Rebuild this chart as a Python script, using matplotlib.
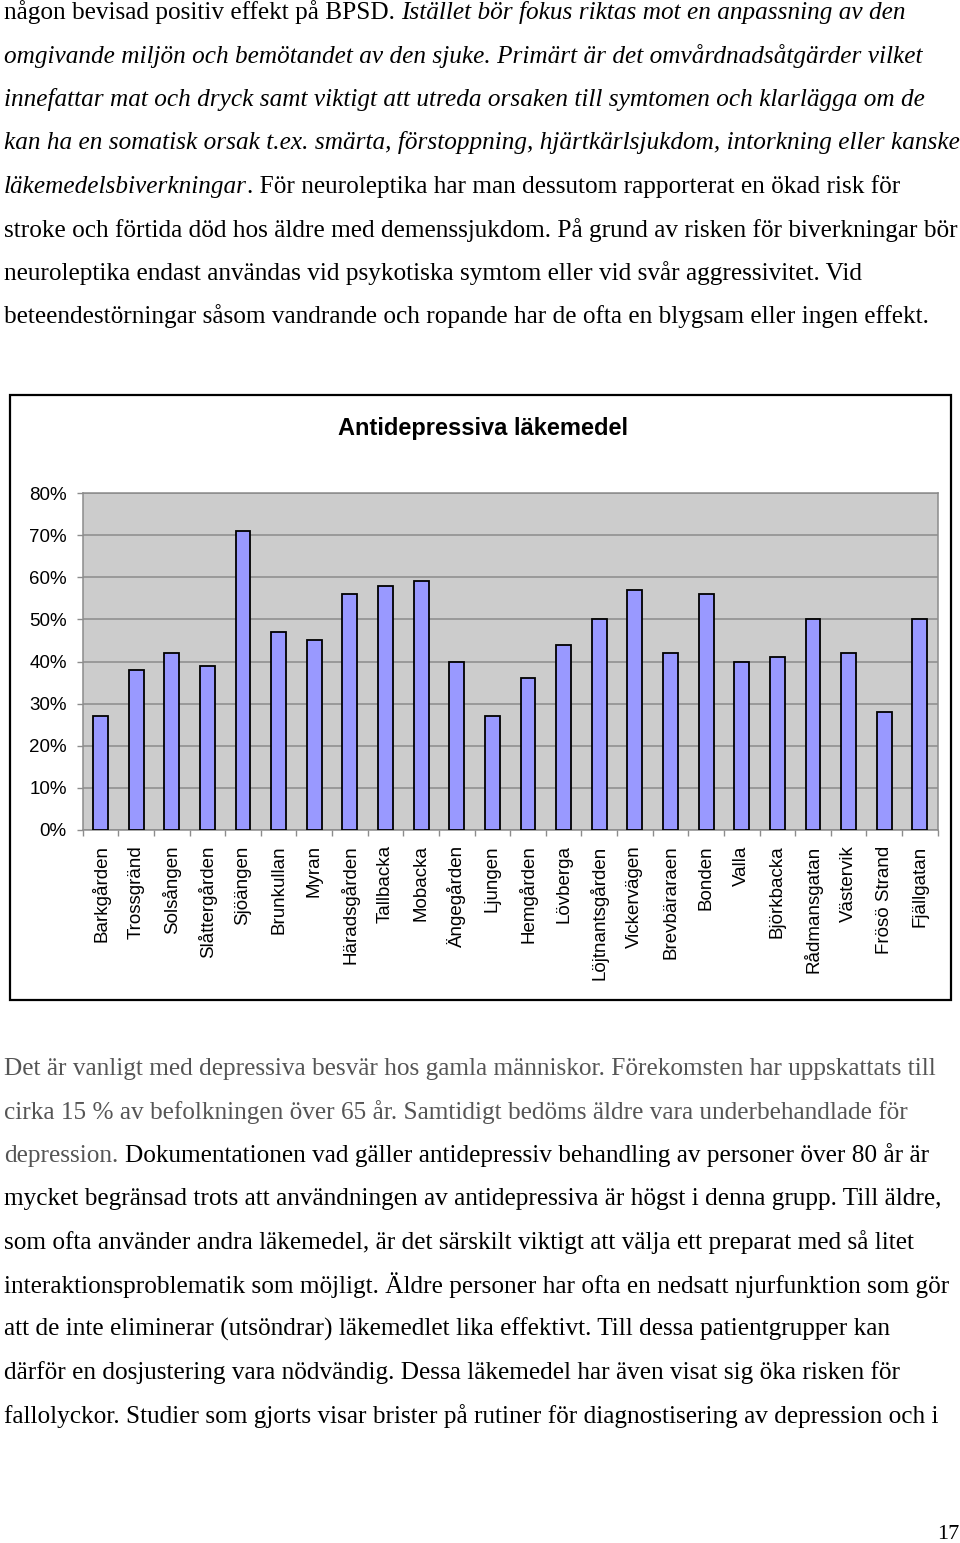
import matplotlib
matplotlib.use("Agg")
import matplotlib.pyplot as plt
from matplotlib.patches import Rectangle
import numpy as np

W, H = 960, 1543
DPI = 100

# ---------------- data ----------------
categories = ["Barkgården", "Trossgränd", "Solsången", "Slåttergården", "Sjöängen",
              "Brunkullan", "Myran", "Häradsgården", "Tallbacka", "Mobacka",
              "Ängegården", "Ljungen", "Hemgården", "Lövberga", "Löjtnantsgården",
              "Vickervägen", "Brevbäraraen", "Bonden", "Valla", "Björkbacka",
              "Rådmansgatan", "Västervik", "Frösö Strand", "Fjällgatan"]
values = [27, 38, 42, 39, 71, 47, 45, 56, 58, 59, 40, 27, 36, 44, 50, 57,
          42, 56, 40, 41, 50, 42, 28, 50]
y_ticks = [0, 10, 20, 30, 40, 50, 60, 70, 80]
y_tick_labels = ["0%", "10%", "20%", "30%", "40%", "50%", "60%", "70%", "80%"]
chart_title = "Antidepressiva läkemedel"

GRAY = "#555555"
top_lines = [
    [("någon bevisad positiv effekt på BPSD.", "n", "k"),
     (" Istället bör fokus riktas mot en anpassning av den", "i", "k")],
    [("omgivande miljön och bemötandet av den sjuke. Primärt är det omvårdnadsåtgärder vilket", "i", "k")],
    [("innefattar mat och dryck samt viktigt att utreda orsaken till symtomen och klarlägga om de", "i", "k")],
    [("kan ha en somatisk orsak t.ex. smärta, förstoppning, hjärtkärlsjukdom, intorkning eller kanske", "i", "k")],
    [("läkemedelsbiverkningar", "i", "k"),
     (". För neuroleptika har man dessutom rapporterat en ökad risk för", "n", "k")],
    [("stroke och förtida död hos äldre med demenssjukdom. På grund av risken för biverkningar bör", "n", "k")],
    [("neuroleptika endast användas vid psykotiska symtom eller vid svår aggressivitet. Vid", "n", "k")],
    [("beteendestörningar såsom vandrande och ropande har de ofta en blygsam eller ingen effekt.", "n", "k")],
]
bottom_lines = [
    [("Det är vanligt med depressiva besvär hos gamla människor. Förekomsten har uppskattats till", "n", "g")],
    [("cirka 15 % av befolkningen över 65 år. Samtidigt bedöms äldre vara underbehandlade för", "n", "g")],
    [("depression.", "n", "g"),
     (" Dokumentationen vad gäller antidepressiv behandling av personer över 80 år är", "n", "k")],
    [("mycket begränsad trots att användningen av antidepressiva är högst i denna grupp. Till äldre,", "n", "k")],
    [("som ofta använder andra läkemedel, är det särskilt viktigt att välja ett preparat med så litet", "n", "k")],
    [("interaktionsproblematik som möjligt. Äldre personer har ofta en nedsatt njurfunktion som gör", "n", "k")],
    [("att de inte eliminerar (utsöndrar) läkemedlet lika effektivt. Till dessa patientgrupper kan", "n", "k")],
    [("därför en dosjustering vara nödvändig. Dessa läkemedel har även visat sig öka risken för", "n", "k")],
    [("fallolyckor. Studier som gjorts visar brister på rutiner för diagnostisering av depression och i", "n", "k")],
]
page_number = "17"

# ---------------- figure ----------------
fig = plt.figure(figsize=(W / DPI, H / DPI), dpi=DPI)
fig.patch.set_facecolor("white")
renderer = fig.canvas.get_renderer()

SERIF = "Liberation Serif"
SANS = "Liberation Sans"


def fx(px):
    return px / W


def fy(py):
    return 1 - py / H


def measure(txt, fs, style):
    t = fig.text(0, 0, txt, fontsize=fs, family=SERIF, style=("italic" if style == "i" else "normal"))
    w = t.get_window_extent(renderer).width
    t.remove()
    return w


def space_w(fs, style):
    return measure("x x", fs, style) - measure("xx", fs, style)


def line_width(segs, fs):
    total = 0
    for txt, st, col in segs:
        if txt.startswith(" "):
            total += space_w(fs, st)
            txt = txt[1:]
        total += measure(txt, fs, st)
    return total


# estimate body font size from reference line widths
targets_top = [908, 925, 925, 958, 902, 958, 866, 930]
base = 17.0
ratios = []
for segs, tw in zip(top_lines, targets_top):
    ratios.append((tw - 4) / line_width(segs, base))
FS = base * float(np.median(ratios))


def draw_line(segs, x0, baseline):
    x = x0
    for txt, st, col in segs:
        if txt.startswith(" "):
            x += space_w(FS, st)
            txt = txt[1:]
        color = GRAY if col == "g" else "black"
        t = fig.text(fx(x), fy(baseline), txt, fontsize=FS, family=SERIF,
                     style=("italic" if st == "i" else "normal"), color=color,
                     ha="left", va="baseline")
        x += t.get_window_extent(renderer).width


for i, segs in enumerate(top_lines):
    draw_line(segs, 4, 19 + i * 43.5)

for i, segs in enumerate(bottom_lines):
    draw_line(segs, 4, 1075 + i * 43.5)

fig.text(fx(959), fy(1539), page_number, fontsize=16, family=SERIF,
         ha="right", va="baseline")

# ---------------- chart frame ----------------
fig.patches.append(Rectangle((fx(10), fy(1000)), fx(951) - fx(10), fy(395) - fy(1000),
                             transform=fig.transFigure, fill=False,
                             edgecolor="black", linewidth=1.6, zorder=0))

fig.text(fx(483), fy(428), chart_title, fontsize=17, family=SANS,
         fontweight="bold", ha="center", va="center")

# ---------------- axes ----------------
L, R, T, B = 82.7, 937.7, 493, 830
ax = fig.add_axes([fx(L), fy(B), (R - L) / W, (B - T) / H])
ax.set_facecolor("#cccccc")
x = np.arange(len(categories))
ax.bar(x, values, width=0.42, color="#9999ff", edgecolor="black", linewidth=1.3, zorder=3)

ax.set_xlim(-0.5, len(categories) - 0.5)
ax.set_ylim(0, 80)
ax.set_yticks(y_ticks)
ax.set_yticklabels(y_tick_labels, family=SANS, fontsize=13.5)
ax.set_xticks(x)
ax.set_xticklabels(categories, rotation=90, family=SANS, fontsize=13.5, va="top", ha="center")
ax.set_xticks(np.arange(-0.5, len(categories), 1.0), minor=True)

gc = "#8c8c8c"
ax.tick_params(axis="y", direction="out", length=4.5, width=1, color=gc, pad=7)
ax.tick_params(axis="x", which="major", length=0, pad=11)
ax.tick_params(axis="x", which="minor", direction="out", length=4.5, width=1, color=gc)
ax.yaxis.grid(True, color=gc, linewidth=1.1, zorder=1)
ax.set_axisbelow(True)
for s in ax.spines.values():
    s.set_color(gc)
    s.set_linewidth(1.1)

fig.savefig("out.png", dpi=DPI)
